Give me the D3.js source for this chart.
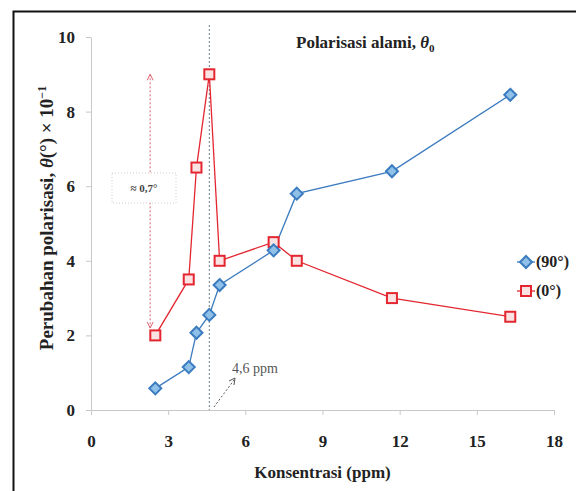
<!DOCTYPE html>
<html>
<head>
<meta charset="utf-8">
<script src="https://cdn.jsdelivr.net/npm/d3@7"></script>
<style>
  body { margin: 0; background: #fff; }
  svg text { font-family: "Liberation Serif", "DejaVu Serif", serif; }
</style>
</head>
<body>
<div class="chart"></div>
<script>
// Data
var konsentrasi = [2.5, 3.8, 4.1, 4.6, 5.0, 7.1, 8.0, 11.7, 16.3];
var pol90 = [0.58, 1.15, 2.07, 2.55, 3.35, 4.28, 5.8, 6.4, 8.45];
var pol0 = [2.0, 3.5, 6.5, 9.0, 4.0, 4.5, 4.0, 3.0, 2.5];
var xTicks = [0, 3, 6, 9, 12, 15, 18];
var yTicks = [0, 2, 4, 6, 8, 10];
var seriesNames = ["(90\u00b0)", "(0\u00b0)"];

var width = 576,
    height = 491;

var blue = "#3b7bbf",
    red = "#e3262f";

var xScale = d3.scaleLinear().domain([0, 18]).range([91, 554]);
var yScale = d3.scaleLinear().domain([0, 10]).range([410, 37]);

var svg = d3.select(".chart")
    .append("svg")
    .attr("width", width)
    .attr("height", height);

// outer frame
svg.append("rect")
    .attr("x", 13.5)
    .attr("y", 11.5)
    .attr("width", 580)
    .attr("height", 500)
    .attr("fill", "none")
    .attr("stroke", "#111")
    .attr("stroke-width", 2);

// axes
var xAxis = svg.append("g")
    .attr("transform", "translate(0," + yScale(0) + ")")
    .call(d3.axisBottom(xScale).tickValues(xTicks).tickSize(5).tickPadding(20).tickSizeOuter(0));

var yAxis = svg.append("g")
    .attr("transform", "translate(" + xScale(0) + ",0)")
    .call(d3.axisLeft(yScale).tickValues(yTicks).tickSize(5).tickPadding(11).tickSizeOuter(0));

[xAxis, yAxis].forEach(function (a) {
    a.select(".domain").attr("stroke", "#c8c8c8");
    a.selectAll(".tick line").attr("stroke", "#c8c8c8");
    a.selectAll(".tick text")
        .attr("fill", "#222")
        .style("font-size", "17px")
        .style("font-weight", "bold")
        .style("font-family", "Liberation Serif, serif");
});

// 4,6 ppm reference line
svg.append("line")
    .attr("x1", xScale(4.6)).attr("x2", xScale(4.6))
    .attr("y1", 25).attr("y2", yScale(0))
    .attr("stroke", "#6a7f8a")
    .attr("stroke-width", 1)
    .attr("stroke-dasharray", "2,2");

// ≈0,7° double arrow
var arrowX = xScale(2.3);
svg.append("line")
    .attr("x1", arrowX).attr("x2", arrowX)
    .attr("y1", yScale(9.0)).attr("y2", yScale(2.2))
    .attr("stroke", "#e06070")
    .attr("stroke-width", 1)
    .attr("stroke-dasharray", "2,2");
[[yScale(9.0), 1], [yScale(2.2), -1]].forEach(function (p) {
    svg.append("path")
        .attr("d", "M" + (arrowX - 3) + "," + (p[0] + 6 * p[1]) + "L" + arrowX + "," + p[0] + "L" + (arrowX + 3) + "," + (p[0] + 6 * p[1]))
        .attr("fill", "none")
        .attr("stroke", "#e06070")
        .attr("stroke-width", 1);
});

svg.append("rect")
    .attr("x", 112).attr("y", 173)
    .attr("width", 64).attr("height", 30)
    .attr("fill", "#fff")
    .attr("stroke", "#ccc")
    .attr("stroke-dasharray", "1,2");
svg.append("text")
    .attr("x", 144).attr("y", 192)
    .attr("text-anchor", "middle")
    .attr("fill", "#444")
    .style("font-size", "11px")
    .style("font-weight", "bold")
    .text("\u2248 0,7\u00b0");

// lines
var line = d3.line()
    .x(function (d) { return xScale(d[0]); })
    .y(function (d) { return yScale(d[1]); });

var data90 = konsentrasi.map(function (k, i) { return [k, pol90[i]]; });
var data0 = konsentrasi.map(function (k, i) { return [k, pol0[i]]; });

svg.append("path")
    .datum(data0)
    .attr("d", line)
    .attr("fill", "none")
    .attr("stroke", red)
    .attr("stroke-width", 1.3);

svg.append("path")
    .datum(data90)
    .attr("d", line)
    .attr("fill", "none")
    .attr("stroke", blue)
    .attr("stroke-width", 1.3);

function square(g, x, y) {
    g.append("rect")
        .attr("x", x - 5).attr("y", y - 5)
        .attr("width", 10).attr("height", 10)
        .attr("fill", "#fbe3e4")
        .attr("stroke", red)
        .attr("stroke-width", 2);
}
function diamond(g, x, y) {
    g.append("path")
        .attr("d", "M" + x + "," + (y - 6) + "L" + (x + 6) + "," + y + "L" + x + "," + (y + 6) + "L" + (x - 6) + "," + y + "Z")
        .attr("fill", "#8fc0e8")
        .attr("stroke", blue)
        .attr("stroke-width", 2);
}

data0.forEach(function (d) { square(svg, xScale(d[0]), yScale(d[1])); });
data90.forEach(function (d) { diamond(svg, xScale(d[0]), yScale(d[1])); });

// 4,6 ppm annotation
svg.append("line")
    .attr("x1", 214).attr("y1", 407)
    .attr("x2", 234).attr("y2", 380)
    .attr("stroke", "#555")
    .attr("stroke-dasharray", "2,2");
svg.append("path")
    .attr("d", "M229,381L235,378L234,385")
    .attr("fill", "none")
    .attr("stroke", "#555");
svg.append("text")
    .attr("x", 232).attr("y", 373)
    .attr("fill", "#555")
    .style("font-size", "14px")
    .text("4,6 ppm");

// title
var title = svg.append("text")
    .attr("x", 296).attr("y", 48)
    .attr("fill", "#222")
    .style("font-size", "17px")
    .style("font-weight", "bold");
title.append("tspan").text("Polarisasi alami, ");
title.append("tspan").style("font-style", "italic").text("\u03b8");
title.append("tspan").attr("dy", 4).style("font-size", "11px").text("0");

// legend
var legendY = [262, 291];
[0, 1].forEach(function (i) {
    var y = legendY[i];
    var c = i === 0 ? blue : red;
    svg.append("line")
        .attr("x1", 517).attr("x2", 535)
        .attr("y1", y).attr("y2", y)
        .attr("stroke", c).attr("stroke-width", 1.3);
    if (i === 0) diamond(svg, 526, y); else square(svg, 526, y);
    svg.append("text")
        .attr("x", 536).attr("y", y + 5)
        .attr("fill", "#222")
        .style("font-size", "16px")
        .style("font-weight", "bold")
        .text(seriesNames[i]);
});

// axis titles
svg.append("text")
    .attr("x", xScale(9)).attr("y", 478)
    .attr("text-anchor", "middle")
    .attr("fill", "#222")
    .style("font-size", "17px")
    .style("font-weight", "bold")
    .text("Konsentrasi (ppm)");

var yl = svg.append("text")
    .attr("transform", "translate(53,218) rotate(-90)")
    .attr("text-anchor", "middle")
    .attr("fill", "#222")
    .style("font-size", "19px")
    .style("font-weight", "bold");
yl.append("tspan").text("Perubahan polarisasi, ");
yl.append("tspan").style("font-style", "italic").text("\u03b8");
yl.append("tspan").text("(\u00b0) \u00d7 10");
yl.append("tspan").attr("dy", -7).style("font-size", "12px").text("\u22121");
</script>
</body>
</html>
